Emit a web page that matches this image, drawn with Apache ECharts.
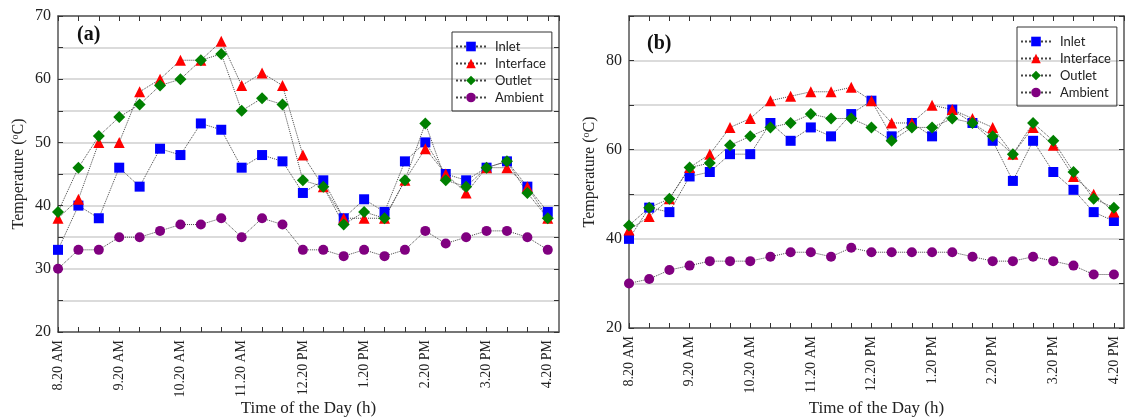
<!DOCTYPE html>
<html lang="en">
<head>
    <meta charset="UTF-8">
    <title>Temperature profiles</title>
    <script src="https://cdn.jsdelivr.net/npm/echarts@6/dist/echarts.min.js"></script>
    <style>
        html, body { margin: 0; padding: 0; background: #fff; }
        #main { width: 1125px; height: 419px; }
    </style>
</head>
<body>
    <div id="main"></div>
    <script>
        // time of day, every 20 minutes
        var times = ['8.20 AM', '8.40 AM', '9.00 AM', '9.20 AM', '9.40 AM', '10.00 AM', '10.20 AM', '10.40 AM', '11.00 AM',
            '11.20 AM', '11.40 AM', '12.00 PM', '12.20 PM', '12.40 PM', '1.00 PM', '1.20 PM', '1.40 PM', '2.00 PM',
            '2.20 PM', '2.40 PM', '3.00 PM', '3.20 PM', '3.40 PM', '4.00 PM', '4.20 PM'];

        // (a)
        var inletA = [33, 40, 38, 46, 43, 49, 48, 53, 52, 46, 48, 47, 42, 44, 38, 41, 39, 47, 50, 45, 44, 46, 47, 43, 39];
        var interfaceA = [38, 41, 50, 50, 58, 60, 63, 63, 66, 59, 61, 59, 48, 43, 38, 38, 38, 44, 49, 45, 42, 46, 46, 43, 38];
        var outletA = [39, 46, 51, 54, 56, 59, 60, 63, 64, 55, 57, 56, 44, 43, 37, 39, 38, 44, 53, 44, 43, 46, 47, 42, 38];
        var ambientA = [30, 33, 33, 35, 35, 36, 37, 37, 38, 35, 38, 37, 33, 33, 32, 33, 32, 33, 36, 34, 35, 36, 36, 35, 33];

        // (b)
        var inletB = [40, 47, 46, 54, 55, 59, 59, 66, 62, 65, 63, 68, 71, 63, 66, 63, 69, 66, 62, 53, 62, 55, 51, 46, 44];
        var interfaceB = [42, 45, 49, 56, 59, 65, 67, 71, 72, 73, 73, 74, 71, 66, 66, 70, 69, 67, 65, 59, 65, 61, 54, 50, 46];
        var outletB = [43, 47, 49, 56, 57, 61, 63, 65, 66, 68, 67, 67, 65, 62, 65, 65, 67, 66, 63, 59, 66, 62, 55, 49, 47];
        var ambientB = [30, 31, 33, 34, 35, 35, 35, 36, 37, 37, 36, 38, 37, 37, 37, 37, 37, 36, 35, 35, 36, 35, 34, 32, 32];

        var names = ['Inlet', 'Interface', 'Outlet', 'Ambient'];
        var colors = ['#0000ff', '#ff0000', '#008000', '#800080'];
        var symbols = ['rect', 'triangle', 'diamond', 'circle'];
        var sizes = [10, 11, 12, 10];

        var serif = 'Liberation Serif';

        function pairs(arr) {
            return arr.map(function (v, i) { return [i, v]; });
        }

        function makeSeries(list, xi, yi) {
            return list.map(function (arr, k) {
                return {
                    name: names[k],
                    type: 'line',
                    xAxisIndex: xi,
                    yAxisIndex: yi,
                    symbol: symbols[k],
                    symbolSize: sizes[k],
                    itemStyle: { color: colors[k] },
                    lineStyle: { color: '#444', type: 'dotted', width: 1 },
                    data: pairs(arr)
                };
            });
        }

        function xAxes(gi, max, gap) {
            return [{
                type: 'value', gridIndex: gi, position: 'bottom', min: 0, max: max, interval: 1,
                name: 'Time of the Day (h)', nameLocation: 'middle', nameGap: gap, nameMoveOverlap: false,
                nameTextStyle: { fontFamily: serif, fontSize: 17, color: '#222', verticalAlign: 'top' },
                axisLine: { lineStyle: { color: '#555', width: 1.5 } },
                axisTick: { inside: true, length: 5, lineStyle: { color: '#333' } },
                axisLabel: {
                    rotate: 90, fontFamily: serif, fontSize: 14, color: '#222', margin: 8,
                    showMaxLabel: false,
                    formatter: function (v) { return (v % 3 === 0 && times[v]) ? times[v] : ''; }
                },
                splitLine: { show: false }
            }, {
                type: 'value', gridIndex: gi, position: 'top', min: 0, max: max, interval: 1,
                axisLine: { onZero: false, lineStyle: { color: '#555', width: 1.5 } },
                axisTick: { inside: true, length: 5, lineStyle: { color: '#333' } },
                axisLabel: { show: false },
                splitLine: { show: false }
            }];
        }

        function yAxes(gi, min, max, step, labelStep) {
            return [{
                type: 'value', gridIndex: gi, position: 'left', min: min, max: max, interval: step,
                name: 'Temperature ({s|o}C)', nameLocation: 'middle', nameGap: 30,
                nameTextStyle: {
                    fontFamily: serif, fontSize: 16, color: '#222',
                    rich: { s: { fontFamily: serif, fontSize: 10, color: '#222', verticalAlign: 'top', padding: [0, 0, 8, 0] } }
                },
                axisLine: { lineStyle: { color: '#555', width: 1.5 } },
                axisTick: { inside: true, length: 5, lineStyle: { color: '#333' } },
                axisLabel: {
                    fontFamily: serif, fontSize: 16, color: '#222', margin: 7,
                    formatter: function (v) { return v % labelStep === 0 ? String(v) : ''; }
                },
                splitLine: { show: true, lineStyle: { color: '#cfcfcf', width: 1.5 } }
            }, {
                type: 'value', gridIndex: gi, position: 'right', min: min, max: max, interval: step,
                axisLine: { onZero: false, lineStyle: { color: '#555', width: 1.5 } },
                axisTick: { show: true, inside: true, length: 5, lineStyle: { color: '#333' } },
                axisLabel: { show: false },
                splitLine: { show: false }
            }];
        }

        function legend(left, top) {
            return {
                orient: 'vertical', left: left, top: top,
                data: names,
                itemWidth: 30, itemHeight: 12, itemGap: 4,
                padding: [8, 6, 7, 3],
                borderColor: '#333', borderWidth: 1, borderRadius: 0,
                textStyle: { fontFamily: 'Lato', fontSize: 13, color: '#222', padding: [0, 0, 0, 4] }
            };
        }

        var chart = echarts.init(document.getElementById('main'));
        var option = {
            animation: false,
            title: [
                { text: '(a)', left: 72, top: 20, textStyle: { fontFamily: serif, fontSize: 20, fontWeight: 'bold', color: '#111' } },
                { text: '(b)', left: 642, top: 29, textStyle: { fontFamily: serif, fontSize: 20, fontWeight: 'bold', color: '#111' } }
            ],
            legend: [legend(452, 32), legend(1017, 27)],
            grid: [
                { left: 58, top: 16, width: 501, height: 316, outerBoundsMode: 'none' },
                { left: 629, top: 16, width: 495, height: 312, outerBoundsMode: 'none' }
            ],
            xAxis: xAxes(0, 24.55, 68).concat(xAxes(1, 24.5, 72)),
            yAxis: yAxes(0, 20, 70, 5, 10).concat(yAxes(1, 20, 90, 10, 20)),
            series: makeSeries([inletA, interfaceA, outletA, ambientA], 0, 0)
                .concat(makeSeries([inletB, interfaceB, outletB, ambientB], 2, 2))
        };
        chart.setOption(option);
    </script>
</body>
</html>
